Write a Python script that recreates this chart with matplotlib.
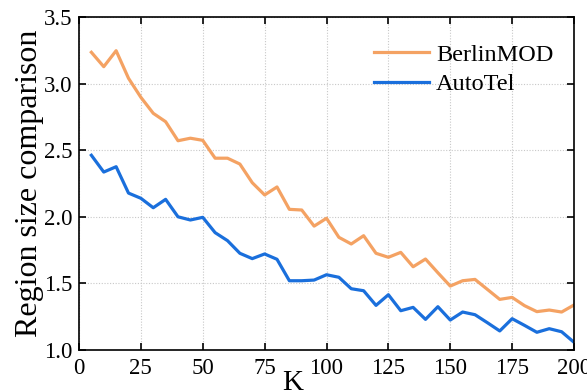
import matplotlib
matplotlib.use('Agg')
import matplotlib.pyplot as plt

# K values and region size ratios
k_values = list(range(5, 205, 5))
berlinmod = [3.235, 3.127, 3.247, 3.04, 2.897, 2.777, 2.714, 2.571, 2.59, 2.574,
             2.44, 2.44, 2.396, 2.256, 2.164, 2.224, 2.056, 2.051, 1.93, 1.989,
             1.846, 1.796, 1.858, 1.726, 1.696, 1.733, 1.625, 1.683, 1.58, 1.48,
             1.52, 1.53, 1.455, 1.38, 1.395, 1.333, 1.288, 1.30, 1.285, 1.338]
autotel = [2.462, 2.336, 2.376, 2.178, 2.139, 2.068, 2.131, 2.0, 1.976, 1.996,
           1.881, 1.821, 1.726, 1.686, 1.721, 1.681, 1.52, 1.52, 1.525, 1.565,
           1.546, 1.46, 1.445, 1.335, 1.415, 1.295, 1.32, 1.23, 1.325, 1.225,
           1.285, 1.265, 1.205, 1.143, 1.235, 1.185, 1.133, 1.16, 1.137, 1.058]
x_ticks = [0, 25, 50, 75, 100, 125, 150, 175, 200]
y_ticks = [1.0, 1.5, 2.0, 2.5, 3.0, 3.5]

plt.rcParams['font.family'] = ['Liberation Serif', 'DejaVu Serif']
plt.rcParams['font.size'] = 16.5

fig = plt.figure(figsize=(5.87, 3.91), dpi=100)
ax = fig.add_axes([79 / 587, 1 - 350 / 391, 495 / 587, 333 / 391])

ax.plot(k_values, berlinmod, color='#F4A263', lw=2.3, label='BerlinMOD')
ax.plot(k_values, autotel, color='#1A6FDC', lw=2.3, label='AutoTel')

ax.set_xlim(0, 200)
ax.set_ylim(1.0, 3.5)
ax.set_xticks(x_ticks)
ax.set_yticks(y_ticks)
ax.set_yticklabels(['%.1f' % v for v in y_ticks])
ax.grid(True, linestyle=(0, (1, 1.5)), color='#c8c8c8', lw=0.8)
ax.tick_params(direction='in', top=True, right=True, length=5, width=1.2)
ax.tick_params(axis='x', pad=6)
ax.tick_params(axis='y', pad=5)
for s in ax.spines.values():
    s.set_linewidth(1.2)

ax.set_xlabel('K', fontsize=21)
ax.xaxis.set_label_coords(0.432, -0.06)
ax.set_ylabel('Region size comparison', fontsize=23, labelpad=0)

ax.legend(loc='upper right', frameon=False, handlelength=2.3, handletextpad=0.28,
          labelspacing=0.3, bbox_to_anchor=(1.003, 0.985), fontsize=17.5)

fig.savefig('out.png', dpi=100)
